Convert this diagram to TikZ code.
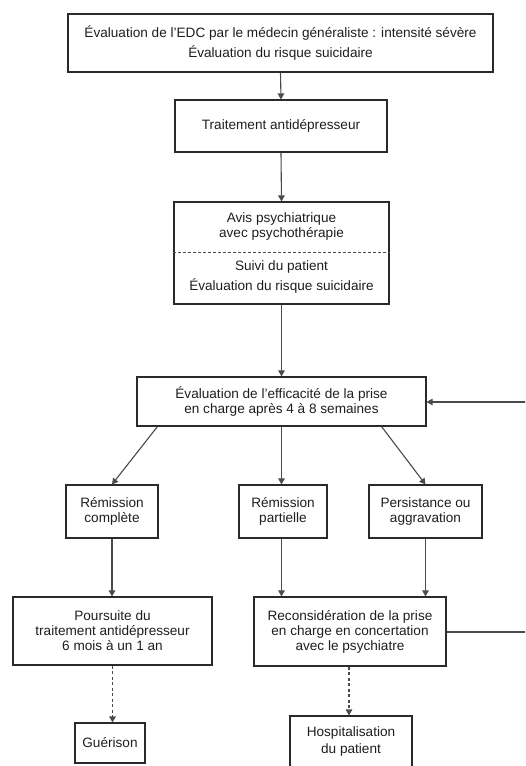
\documentclass[tikz,border=0pt]{standalone}
\usepackage{fontspec}
\setmainfont{Liberation Sans}
\usetikzlibrary{arrows.meta,calc}
\definecolor{ln}{HTML}{4A4A4A}
\definecolor{bx}{HTML}{2A2A2A}
\definecolor{tx}{HTML}{1E1E1E}
\begin{document}
\begin{tikzpicture}[x=1pt,y=-1pt,
  box/.style={draw=bx,line width=1.1pt,rectangle,inner sep=0pt,align=center,text=tx,
    font=\fontsize{13.6}{15}\selectfont},
  lbl/.style={inner sep=0pt,align=center,text=tx,font=\fontsize{13.6}{15}\selectfont},
  arr/.style={draw=ln,line width=1.1pt,-{Triangle[length=6pt,width=6.5pt]}},
  darr/.style={arr,dash pattern=on 3pt off 2.5pt}]
\useasboundingbox (0,0) rectangle (525,766);
\clip (0,0) rectangle (525,766);
\node[box,minimum width=425pt,minimum height=58pt,font=\fontsize{13.6}{19.5}\selectfont] (b1) at (280.5,43)
  {Évaluation de l’EDC par le médecin généraliste : intensité sévère\\Évaluation du risque suicidaire};
\node[box,minimum width=212pt,minimum height=52pt] (b2) at (281,126) {Traitement antidépresseur};
\node[box,minimum width=215pt,minimum height=102pt] (b3) at (281.5,253) {};
\draw[draw=ln,line width=0.9pt,dash pattern=on 3pt off 2pt] (b3.west |- 0,252) -- (b3.east |- 0,252);
\node[lbl] (b3a) at (281.5,226.5) {Avis psychiatrique\\avec psychothérapie};
\node[lbl,font=\fontsize{13.6}{20}\selectfont] (b3b) at (281.5,277) {Suivi du patient\\Évaluation du risque suicidaire};
\node[box,minimum width=289pt,minimum height=49pt] (b4) at (281.5,401.5)
  {Évaluation de l’efficacité de la prise\\en charge après 4 à 8 semaines};
\node[box,minimum width=92pt,minimum height=53pt] (rc) at (112,511.5) {Rémission\\complète};
\node[box,minimum width=88pt,minimum height=53pt] (rp) at (283,511.5) {Rémission\\partielle};
\node[box,minimum width=113pt,minimum height=53pt] (pa) at (425.5,511.5) {Persistance ou\\aggravation};
\node[box,minimum width=199pt,minimum height=68pt] (po) at (112.5,631)
  {Poursuite du\\traitement antidépresseur\\6 mois à un 1 an};
\node[box,minimum width=192pt,minimum height=69pt] (re) at (350,631.5)
  {Reconsidération de la prise\\en charge en concertation\\avec le psychiatre};
\node[box,minimum width=70pt,minimum height=40pt] (gu) at (110,743) {Guérison};
\node[box,minimum width=122pt,minimum height=60pt] (ho) at (351,746) {};
\node[lbl,font=\fontsize{13.6}{17}\selectfont] (hot) at (351,741.5) {Hospitalisation\\du patient};
\coordinate (c1) at (527,632);
\coordinate (c2) at (527,402);
\draw[arr] (b1.south) -- (b2.north);
\draw[arr] (b2.south) -- (b3.north);
\draw[arr] (b3.south) -- (b4.north);
\draw[arr] ($(b4.south west)+(21,0)$) -- (rc.north);
\draw[arr] (b4.south) -- (b4.south |- rp.north);
\draw[arr] ($(b4.south east)+(-45,0)$) -- (pa.north);
\draw[arr] (rc.south) -- (rc.south |- po.north);
\draw[arr] (rp.south -| b4.south) -- (b4.south |- re.north);
\draw[arr] (pa.south) -- (pa.south |- re.north);
\draw[darr] (po.south) -- (po.south |- gu.north);
\draw[darr] ($(re.south)+(-1,0)$) -- ($(re.south |- ho.north)+(-1,0)$);
\draw[arr] (re.east |- c1) -- (c1) -- (c2) -- (b4.east |- c2);
\end{tikzpicture}
\end{document}
